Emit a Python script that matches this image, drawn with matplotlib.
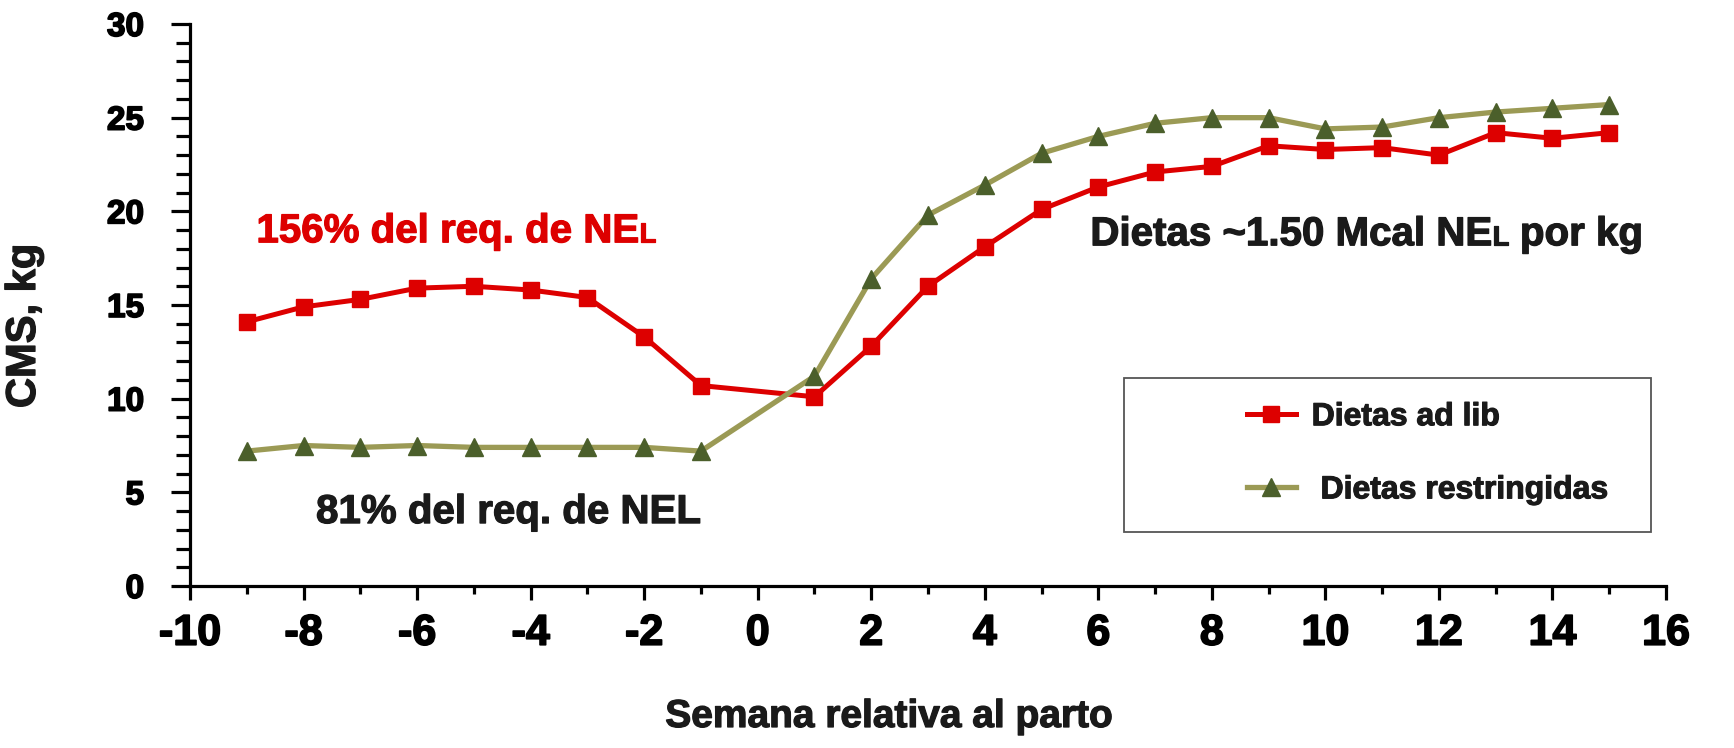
import matplotlib
matplotlib.use("Agg")
import matplotlib.pyplot as plt
import matplotlib.patheffects as pe
from matplotlib.patches import Rectangle
from matplotlib.transforms import blended_transform_factory, IdentityTransform

plt.rcParams['font.family'] = ['Liberation Sans', 'DejaVu Sans']
plt.rcParams['font.weight'] = 'bold'
plt.rcParams['axes.unicode_minus'] = False

semanas = [-9, -8, -7, -6, -5, -4, -3, -2, -1, 1, 2, 3, 4, 5, 6, 7, 8, 9, 10, 11, 12, 13, 14, 15]
ad_lib = [14.1, 14.9, 15.3, 15.9, 16.0, 15.8, 15.4, 13.3, 10.7, 10.1, 12.8, 16.0, 18.1, 20.1,
          21.3, 22.1, 22.4, 23.5, 23.3, 23.4, 23.0, 24.2, 23.9, 24.2]
restringidas = [7.2, 7.5, 7.4, 7.5, 7.4, 7.4, 7.4, 7.4, 7.2, 11.2, 16.4, 19.8, 21.4, 23.1,
                24.0, 24.7, 25.0, 25.0, 24.4, 24.5, 25.0, 25.3, 25.5, 25.7]

rojo = '#dd0000'
oliva = '#9b9a55'
verde = '#4b5f2b'
texto = '#1a1a1a'


def grueso(color, w=0.9):
    return [pe.withStroke(linewidth=w, foreground=color)]


fig = plt.figure(figsize=(17.34, 7.48), dpi=100)
ax = fig.add_axes([190/1734, 1-586/748, (1666-190)/1734, (586-24)/748])

ax.plot(semanas, ad_lib, color=rojo, lw=3.6, marker='s', ms=12, mfc=rojo, mec=rojo,
        label='Dietas ad lib', clip_on=False)
ax.plot(semanas, restringidas, color=oliva, lw=3.8, marker='^', ms=13, mfc=verde, mec=verde,
        label=' Dietas restringidas', clip_on=False)

ax.set_xlim(-10, 16)
ax.set_ylim(0, 30)
ax.set_xticks(range(-10, 17, 2))
ax.set_xticks(range(-10, 17, 1), minor=True)
ax.set_yticks(range(0, 31, 5))
ax.set_yticks(range(0, 31, 1), minor=True)
for s in ['top', 'right']:
    ax.spines[s].set_visible(False)
for s in ['left', 'bottom']:
    ax.spines[s].set_linewidth(2.3)
    ax.spines[s].set_color('black')
ax.tick_params(axis='y', which='major', length=14, width=2.3, direction='out', labelsize=24, pad=19)
ax.tick_params(axis='y', which='minor', length=10, width=2.3, direction='out')
ax.tick_params(axis='x', which='major', length=10, width=2.3, direction='out', labelsize=31, pad=10)
ax.tick_params(axis='x', which='minor', length=6, width=2.3, direction='out')
for lab in ax.get_xticklabels() + ax.get_yticklabels():
    lab.set_path_effects(grueso('black', 1.2))

fig.text(889/1734, 1-727/748, 'Semana relativa al parto', ha='center', va='baseline',
         fontsize=28, color=texto, fontweight='bold', path_effects=grueso(texto))
fig.text(24/1734, 1-326/748, 'CMS, kg', ha='center', va='center', rotation=90,
         fontsize=30, color=texto, fontweight='bold', path_effects=grueso(texto))

# legend box and entries
ax.add_patch(Rectangle((6.46, 2.88), 15.74-6.46, 11.1-2.88, fill=False, edgecolor='#555555',
                       lw=1.3, clip_on=False, zorder=1))
leg = ax.legend(loc='upper left', bbox_to_anchor=(0.716, 0.327), frameon=False, fontsize=23,
                handlelength=1.53, handletextpad=0.5, labelspacing=1.35, borderpad=0,
                borderaxespad=0, labelcolor=texto)
for t in leg.get_texts():
    t.set_path_effects(grueso(texto, 0.8))

fig.canvas.draw()
renderer = fig.canvas.get_renderer()


def texto_partes(x, y, partes, color):
    t = ax.text(x, y, partes[0][0], fontsize=partes[0][1], color=color, ha='left', va='baseline',
                fontweight='bold', path_effects=grueso(color))
    fig.canvas.draw()
    x_px = t.get_window_extent(renderer).x1
    tr = blended_transform_factory(IdentityTransform(), ax.transData)
    for cadena, tam in partes[1:]:
        t = ax.text(x_px, y, cadena, fontsize=tam, color=color, ha='left', va='baseline',
                    fontweight='bold', transform=tr, path_effects=grueso(color))
        fig.canvas.draw()
        x_px = t.get_window_extent(renderer).x1


texto_partes(-8.83, 18.35, [('156% del req. de NE', 29), ('L', 20)], rojo)
texto_partes(-7.78, 3.36, [('81% del req. de NEL', 29)], texto)
texto_partes(5.86, 18.19, [('Dietas ~1.50 Mcal NE', 29), ('L', 20), (' por kg', 29)], texto)

fig.savefig('out.png', dpi=100)
